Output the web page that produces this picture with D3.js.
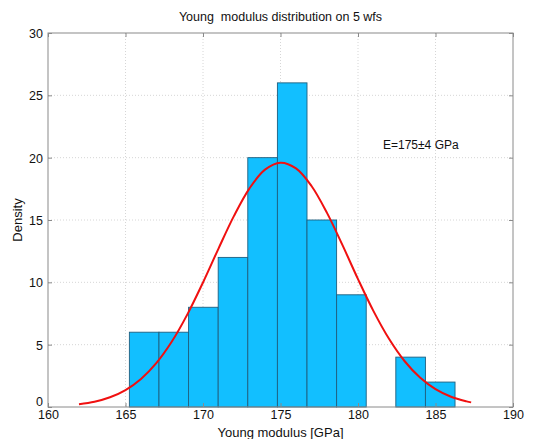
<!DOCTYPE html>
<html>
<head>
<meta charset="utf-8">
<script src="https://cdn.jsdelivr.net/npm/d3@7"></script>
<style>
  body { margin: 0; background: #fff; }
  svg text { font-family: Arial, "Liberation Sans", Helvetica, sans-serif; fill: #111; }
</style>
</head>
<body>
<svg id="chart" width="535" height="439"></svg>
<script>
// histogram bins (GPa) and counts
var binEdges = [165.25, 167.16, 169.07, 170.98, 172.89, 174.80, 176.71, 178.62, 180.53, 182.44, 184.35, 186.26];
var binCounts = [6, 6, 8, 12, 20, 26, 15, 9, 0, 4, 2];

// fitted curve
var fitX = [162, 163, 164, 165, 166, 167, 168, 169, 170, 171, 172, 173, 174, 175, 176, 177, 178, 179, 180, 181, 182, 183, 184, 185, 186, 187, 187.3];
var fitY = [0.22, 0.42, 0.78, 1.36, 2.25, 3.54, 5.27, 7.45, 9.99, 12.71, 15.33, 17.54, 19.04, 19.6, 19.14, 17.73, 15.57, 12.98, 10.26, 7.69, 5.47, 3.69, 2.36, 1.43, 0.82, 0.45, 0.37];

var xTicks = [160, 165, 170, 175, 180, 185, 190];
var yTicks = [0, 5, 10, 15, 20, 25, 30];

var svg = d3.select("#chart");
var margin = {left: 48, right: 22, top: 33, bottom: 32};
var width = 535, height = 439;

var x = d3.scaleLinear().domain([160, 190]).range([margin.left, width - margin.right]);
var y = d3.scaleLinear().domain([0, 30]).range([height - margin.bottom, margin.top]);

var x0 = x.range()[0], x1 = x.range()[1], y0 = y.range()[0], y1 = y.range()[1];

// grid
var grid = svg.append("g");
grid.selectAll(".vg").data(xTicks.slice(1, -1)).enter().append("line")
  .attr("x1", function(d){ return x(d) }).attr("x2", function(d){ return x(d) })
  .attr("y1", y1).attr("y2", y0)
  .attr("stroke", "#cccccc").attr("stroke-width", 0.8).attr("stroke-dasharray", "1,2");
grid.selectAll(".hg").data(yTicks.slice(1, -1)).enter().append("line")
  .attr("y1", function(d){ return y(d) }).attr("y2", function(d){ return y(d) })
  .attr("x1", x0).attr("x2", x1)
  .attr("stroke", "#cccccc").attr("stroke-width", 0.8).attr("stroke-dasharray", "1,2");

// bars
var bins = binCounts.map(function(c, i){ return {x0: binEdges[i], x1: binEdges[i+1], n: c} });
svg.append("g").selectAll("rect")
  .data(bins.filter(function(d){ return d.n > 0 }))
  .enter().append("rect")
  .attr("x", function(d){ return x(d.x0) })
  .attr("width", function(d){ return x(d.x1) - x(d.x0) })
  .attr("y", function(d){ return y(d.n) })
  .attr("height", function(d){ return y(0) - y(d.n) })
  .attr("fill", "#12bfff")
  .attr("stroke", "#1f5f7f")
  .attr("stroke-width", 0.9);

// fit curve
var fit = fitX.map(function(v, i){ return [v, fitY[i]] });
svg.append("path")
  .datum(fit)
  .attr("d", d3.line().x(function(d){ return x(d[0]) }).y(function(d){ return y(d[1]) }).curve(d3.curveCatmullRom))
  .attr("fill", "none")
  .attr("stroke", "#f01010")
  .attr("stroke-width", 2);

// box
svg.append("rect")
  .attr("x", x0).attr("y", y1).attr("width", x1 - x0).attr("height", y0 - y1)
  .attr("fill", "none").attr("stroke", "#8a8a8a").attr("stroke-width", 1);

// axes
var xAxis = svg.append("g").attr("transform", "translate(0," + y0 + ")")
  .call(d3.axisBottom(x).tickValues(xTicks).tickSize(-4).tickPadding(3));
var xTop = svg.append("g").attr("transform", "translate(0," + y1 + ")")
  .call(d3.axisTop(x).tickValues(xTicks).tickSize(-4).tickFormat(""));
var yAxis = svg.append("g").attr("transform", "translate(" + x0 + ",0)")
  .call(d3.axisLeft(y).tickValues(yTicks).tickSize(-4).tickPadding(5));
var yRight = svg.append("g").attr("transform", "translate(" + x1 + ",0)")
  .call(d3.axisRight(y).tickValues(yTicks).tickSize(-4).tickFormat(""));

[xAxis, xTop, yAxis, yRight].forEach(function(a){
  a.select(".domain").remove();
  a.selectAll(".tick line").attr("stroke", "#8a8a8a");
  a.selectAll("text").attr("font-size", 12.5).attr("fill", "#111")
    .style("font-family", "Arial, 'Liberation Sans', sans-serif");
});
yAxis.selectAll("text").attr("dy", "0.36em");
// "0" sits just above the "160" label, as in the original
yAxis.selectAll(".tick").filter(function(d){ return d === 0 }).select("text").attr("dy", "-0.12em");

// title
svg.append("text")
  .text("Young  modulus distribution on 5 wfs")
  .attr("x", (x0 + x1) / 2)
  .attr("y", 21)
  .attr("text-anchor", "middle")
  .attr("font-size", 12.5)
  .style("white-space", "pre");

// x label
svg.append("text")
  .text("Young modulus [GPa]")
  .attr("x", (x0 + x1) / 2)
  .attr("y", 437)
  .attr("text-anchor", "middle")
  .attr("font-size", 13);

// y label
svg.append("text")
  .text("Density")
  .attr("transform", "translate(22," + ((y0 + y1) / 2) + ") rotate(-90)")
  .attr("text-anchor", "middle")
  .attr("font-size", 13);

// annotation
svg.append("text")
  .text("E=175\u00b14 GPa")
  .attr("x", 383)
  .attr("y", 149)
  .attr("font-size", 12);
</script>
</body>
</html>
